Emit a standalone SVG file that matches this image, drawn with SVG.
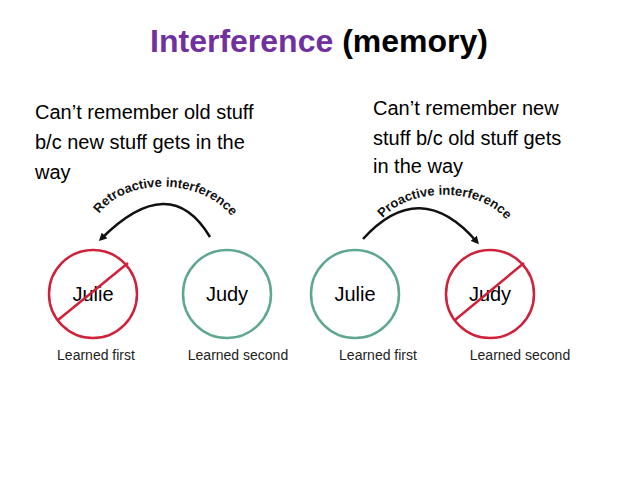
<svg xmlns="http://www.w3.org/2000/svg" width="638" height="478" viewBox="0 0 638 478">
<style>
.t{font-family:"Liberation Sans",Arial,sans-serif}
.body{font-size:20px;fill:#000}
.cg{fill:none;stroke:#5fa88f;stroke-width:2.5}
.cr{fill:none;stroke:#d0213a;stroke-width:2.5}
.nm{font-size:20px;text-anchor:middle}
.lb{font-size:14px;text-anchor:middle;fill:#222}
.arc{fill:none;stroke:#111;stroke-width:2.5;marker-end:url(#ah)}
.al{font-size:13px;font-weight:bold;fill:#111}
</style>
<defs>
<marker id="ah" markerWidth="8" markerHeight="8" refX="5" refY="4" orient="auto" markerUnits="userSpaceOnUse" viewBox="0 0 8 8"><path d="M0,0 L8,4 L0,8 z" fill="#111"/></marker>
<path id="p1" d="M90,236 C100,170 225,170 242,238"/>
<path id="p2" d="M372,238 C387,180 503,180 516,240"/>
</defs>
<rect width="638" height="478" fill="#fff"/>
<text class="t" x="319" y="52" text-anchor="middle" font-size="32" font-weight="bold"><tspan fill="#7030a0">Interference</tspan><tspan fill="#000"> (memory)</tspan></text>
<text class="t body" x="35" y="119">Can’t remember old stuff</text>
<text class="t body" x="35" y="149">b/c new stuff gets in the</text>
<text class="t body" x="35" y="179">way</text>
<text class="t body" x="373" y="115">Can’t remember new</text>
<text class="t body" x="373" y="145">stuff b/c old stuff gets</text>
<text class="t body" x="373" y="173">in the way</text>
<g id="connectors">
<path class="arc" d="M210,237 Q170,170 101,239"/>
<path class="arc" d="M363,239 Q420,176 477,242"/>
<text class="t al"><textPath href="#p1" startOffset="50%" text-anchor="middle">Retroactive interference</textPath></text>
<text class="t al"><textPath href="#p2" startOffset="50%" text-anchor="middle">Proactive interference</textPath></text>
</g>
<g id="julie1"><circle class="cr" cx="93" cy="294" r="44"/><text class="t nm" x="93" y="301">Julie</text><line x1="58" y1="320" x2="128" y2="263" stroke="#d0213a" stroke-width="2.5"/><text class="t lb" x="96" y="360">Learned first</text></g>
<g id="judy1"><circle class="cg" cx="227" cy="294" r="44"/><text class="t nm" x="227" y="301">Judy</text><text class="t lb" x="238" y="360">Learned second</text></g>
<g id="julie2"><circle class="cg" cx="355" cy="294" r="44"/><text class="t nm" x="355" y="301">Julie</text><text class="t lb" x="378" y="360">Learned first</text></g>
<g id="judy2"><circle class="cr" cx="490" cy="294" r="44"/><text class="t nm" x="490" y="301">Judy</text><line x1="455" y1="320" x2="524" y2="263" stroke="#d0213a" stroke-width="2.5"/><text class="t lb" x="520" y="360">Learned second</text></g>
</svg>
